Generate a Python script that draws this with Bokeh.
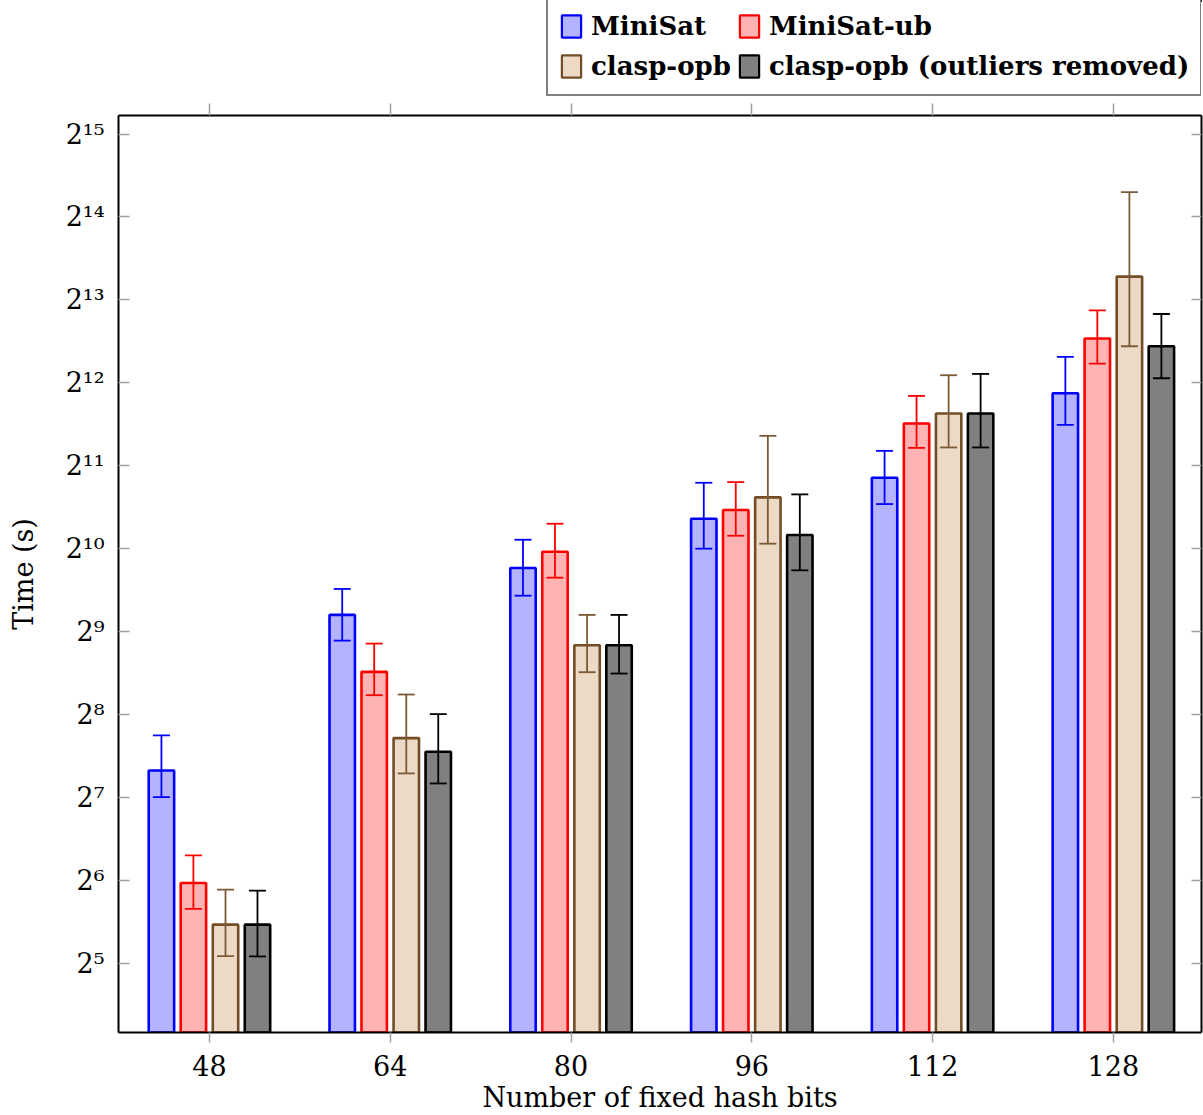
from bokeh.plotting import figure
from bokeh.layouts import column
from bokeh.models import (ColumnDataSource, FixedTicker, LinearAxis, LogAxis, Range1d,
                          Whisker, TeeHead, Legend, LegendItem)
from bokeh.embed import file_html
from bokeh.resources import INLINE

# Number of fixed hash bits (x categories)
hash_bits = [48, 64, 80, 96, 112, 128]

# Mean solving time (s) per solver, with lower / upper ends of the error bars
minisat = [160.1, 587.7, 870.0, 1313.3, 1849.3, 3750.7]
minisat_lo = [128.2, 474.1, 690.2, 1022.6, 1484.8, 2880.3]
minisat_hi = [214.5, 730.1, 1102.0, 1774.2, 2316.9, 5081.5]

minisat_ub = [62.5, 365.1, 996.7, 1412.5, 2912.5, 5926.5]
minisat_ub_lo = [50.3, 300.4, 802.3, 1139.4, 2375.5, 4800.5]
minisat_ub_hi = [78.7, 462.3, 1259.8, 1784.0, 3668.4, 7501.4]

clasp_opb = [44.1, 209.8, 456.3, 1570.5, 3167.2, 9946.4]
clasp_opb_lo = [33.9, 156.2, 364.1, 1066.0, 2383.7, 5556.6]
clasp_opb_hi = [59.1, 302.1, 587.7, 2626.6, 4359.8, 20157.0]

clasp_opb_trim = [44.1, 187.1, 456.3, 1146.5, 3167.2, 5556.6]
clasp_opb_trim_lo = [33.8, 143.6, 360.0, 853.3, 2383.7, 4252.0]
clasp_opb_trim_hi = [58.6, 256.4, 587.7, 1610.1, 4408.1, 7276.0]

series_names = ["MiniSat", "MiniSat-ub", "clasp-opb", "clasp-opb (outliers removed)"]

# y axis: powers of two
y_tick_exponents = list(range(5, 16))
SUP = str.maketrans("0123456789", "⁰¹²³⁴⁵⁶⁷⁸⁹")
y_ticks = [2 ** k for k in y_tick_exponents]
y_tick_labels = ["2" + str(k).translate(SUP) for k in y_tick_exponents]

FONT = "DejaVu Serif"
TICK_GRAY = "#a0a0a0"
W = 1203

styles = [
    (minisat, minisat_lo, minisat_hi, -4.25, "#b3b3ff", "#0000ff", "#0000ff"),
    (minisat_ub, minisat_ub_lo, minisat_ub_hi, -1.42, "#ffb3b3", "#ff0000", "#ff0000"),
    (clasp_opb, clasp_opb_lo, clasp_opb_hi, 1.42, "#ecd9c6", "#734d26", "#7d5a36"),
    (clasp_opb_trim, clasp_opb_trim_lo, clasp_opb_trim_hi, 4.25, "#808080", "#000000", "#000000"),
]
bar_width = 2.25

# ---- main chart -------------------------------------------------------------
p = figure(width=W, height=1015, output_backend="svg", toolbar_location=None,
           x_range=Range1d(39.95, 135.8), y_range=Range1d(17.9, 38250),
           y_axis_type="log",
           min_border_left=118, min_border_right=2, min_border_top=15,
           min_border_bottom=82)
p.outline_line_color = None
p.xgrid.grid_line_color = None
p.ygrid.grid_line_color = None
p.background_fill_color = "white"
p.border_fill_color = "white"

sources = []
for vals, lo, hi, off, fill, line, err in styles:
    src = ColumnDataSource(dict(x=[b + off for b in hash_bits], top=vals, lo=lo, hi=hi))
    sources.append(src)
    p.vbar(x="x", top="top", bottom=1, width=bar_width, source=src,
           fill_color=fill, line_color=line, line_width=2.6)
    w = Whisker(base="x", lower="lo", upper="hi", source=src,
                line_color=err, line_width=1.8, level="annotation",
                upper_head=TeeHead(size=17, line_color=err, line_width=1.8),
                lower_head=TeeHead(size=17, line_color=err, line_width=1.8))
    p.add_layout(w)

# bottom axis
xa = p.xaxis[0]
xa.ticker = FixedTicker(ticks=hash_bits)
xa.axis_label = "Number of fixed hash bits"
xa.axis_label_text_font = FONT
xa.axis_label_text_font_size = "27px"
xa.axis_label_text_font_style = "normal"
xa.axis_label_text_color = "black"
xa.axis_label_standoff = 3
xa.major_label_text_font = FONT
xa.major_label_text_font_size = "27px"
xa.major_label_text_color = "black"
xa.major_label_standoff = 12
xa.major_tick_in = 0
xa.major_tick_out = 10
xa.major_tick_line_color = TICK_GRAY
xa.major_tick_line_width = 1.5
xa.minor_tick_line_color = None
xa.axis_line_color = "black"
xa.axis_line_width = 2

# left axis
ya = p.yaxis[0]
ya.ticker = FixedTicker(ticks=y_ticks)
ya.major_label_overrides = dict(zip(y_ticks, y_tick_labels))
ya.axis_label = "Time (s)"
ya.axis_label_text_font = FONT
ya.axis_label_text_font_size = "27px"
ya.axis_label_text_font_style = "normal"
ya.axis_label_text_color = "black"
ya.axis_label_standoff = 24
ya.major_label_text_font = FONT
ya.major_label_text_font_size = "27px"
ya.major_label_text_color = "black"
ya.major_label_standoff = 14
ya.major_tick_in = 11
ya.major_tick_out = 0
ya.major_tick_line_color = TICK_GRAY
ya.major_tick_line_width = 1.5
ya.minor_tick_line_color = None
ya.axis_line_color = "black"
ya.axis_line_width = 2

# frame edges on top and right carry ticks only
top_axis = LinearAxis(ticker=FixedTicker(ticks=hash_bits),
                      major_tick_in=0, major_tick_out=12,
                      major_tick_line_color=TICK_GRAY, major_tick_line_width=1.5,
                      minor_tick_line_color=None,
                      major_label_text_font_size="0px", major_label_text_color=None,
                      major_label_standoff=0,
                      axis_line_color="black", axis_line_width=2)
p.add_layout(top_axis, "above")

right_axis = LogAxis(ticker=FixedTicker(ticks=y_ticks),
                     major_tick_in=10, major_tick_out=0,
                     major_tick_line_color=TICK_GRAY, major_tick_line_width=1.5,
                     minor_tick_line_color=None,
                     major_label_text_font_size="0px", major_label_text_color=None,
                     major_label_standoff=0,
                     axis_line_color="black", axis_line_width=2)
p.add_layout(right_axis, "right")

# ---- legend strip above the chart ------------------------------------------
# The same bar series are drawn here outside this strip's visible range; only
# their legend keys show.
leg = figure(width=W, height=100, output_backend="svg", toolbar_location=None,
             x_range=Range1d(0, 1), y_range=Range1d(0, 1),
             x_axis_location=None, y_axis_location=None, min_border=0)
leg.outline_line_color = None
leg.xgrid.grid_line_color = None
leg.ygrid.grid_line_color = None
leg.border_fill_color = "white"

keys = []
for (vals, lo, hi, off, fill, line, err), src, name in zip(styles, sources, series_names):
    r = leg.vbar(x="x", top="top", bottom=1, width=bar_width, source=src,
                 fill_color=fill, line_color=line, line_width=2.2)
    keys.append(LegendItem(label=name, renderers=[r]))

legend = Legend(
    items=keys, ncols=2, orientation="horizontal", location=(428, 4),
    label_text_font=FONT, label_text_font_style="bold", label_text_font_size="26px",
    label_text_color="black",
    glyph_width=24, glyph_height=28, label_height=34, label_standoff=8,
    spacing=6, padding=11, margin=0,
    border_line_color="black", border_line_width=2,
    background_fill_color="white", background_fill_alpha=1.0,
)
leg.add_layout(legend)

page = column(leg, p, spacing=0)
open("out.html", "w").write(file_html(page, INLINE))
